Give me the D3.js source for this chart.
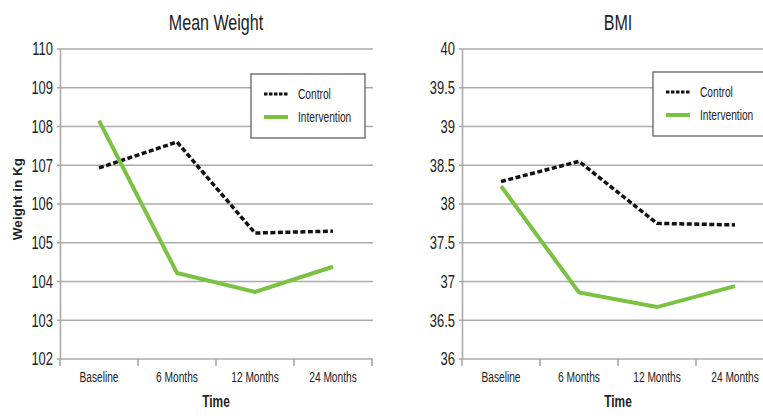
<!DOCTYPE html>
<html><head><meta charset="utf-8">
<script src="https://cdn.jsdelivr.net/npm/d3@7"></script>
<style>
body{margin:0;background:#fff;}
text{font-family:"Liberation Sans",Arial,sans-serif;fill:#222;}
</style></head>
<body><svg id="c" width="763" height="418"></svg>
<script>
const categories = ["Baseline","6 Months","12 Months","24 Months"];
const weightControl = [106.93, 107.6, 105.25, 105.3];
const weightIntervention = [108.15, 104.22, 103.73, 104.38];
const bmiControl = [38.29, 38.55, 37.75, 37.73];
const bmiIntervention = [38.23, 36.86, 36.67, 36.94];
const weightTicks = [102,103,104,105,106,107,108,109,110];
const bmiTicks = [36,36.5,37,37.5,38,38.5,39,39.5,40];
const seriesNames = ["Control","Intervention"];

const svg = d3.select("#c");

function condense(sel, s){
  sel.each(function(){
    const t = d3.select(this);
    const x = +t.attr("x") || 0;
    t.attr("transform", `translate(${x},0) scale(${s},1) translate(${-x},0)`);
  });
}

function panel(opt){
  const g = svg.append("g");
  const x = d3.scaleBand().domain(categories).range([opt.x0, opt.x0+312]);
  const y = d3.scaleLinear().domain(opt.domain).range([359, 49]);
  g.selectAll(".grid").data(opt.ticks).join("line")
    .attr("x1", opt.x0-3).attr("x2", opt.x0+313)
    .attr("y1", d=>y(d)).attr("y2", d=>y(d))
    .attr("stroke", "#aaaaaa").attr("stroke-width", 1.6);
  const ya = d3.axisLeft(y).tickValues(opt.ticks).tickSize(0).tickPadding(7).tickFormat(d=>String(d));
  const yg = g.append("g").attr("transform", `translate(${opt.x0},0)`).call(ya);
  yg.select(".domain").attr("stroke","#aaaaaa").attr("stroke-width",1.6);
  yg.selectAll("text").style("font-size","18px").attr("fill","#333").call(condense, 0.72);
  const xa = d3.axisBottom(x).tickSize(0).tickPadding(12);
  const xg = g.append("g").attr("transform", `translate(0,359)`).call(xa);
  xg.select(".domain").remove();
  xg.selectAll("text").style("font-size","15px").attr("fill","#333").call(condense, 0.68);
  const bounds = [...categories.map(c=>x(c)), opt.x0+312];
  g.selectAll(".xt").data(bounds).join("line")
    .attr("x1", d=>d).attr("x2", d=>d).attr("y1", 359).attr("y2", 366)
    .attr("stroke","#aaaaaa").attr("stroke-width",1.6);
  g.append("text").attr("x", opt.x0+156).attr("y", 407).attr("text-anchor","middle")
    .style("font-size","17px").style("font-weight","bold").text("Time").call(condense, 0.7);
  g.append("text").attr("x", opt.x0+156).attr("y", 30).attr("text-anchor","middle")
    .style("font-size","22px").attr("fill","#333").text(opt.title).call(condense, 0.73);
  const line = d3.line().x((d,i)=>x(categories[i])+x.bandwidth()/2).y(d=>y(d));
  g.append("path").datum(opt.control).attr("d", line).attr("fill","none")
    .attr("stroke","#111").attr("stroke-width",3.5).attr("stroke-dasharray","5,2.5");
  g.append("path").datum(opt.intervention).attr("d", line).attr("fill","none")
    .attr("stroke","#7bc142").attr("stroke-width",4);
  const lx = opt.x0+191, ly = opt.ly;
  g.append("rect").attr("x", lx).attr("y", ly).attr("width", 114).attr("height", 64)
    .attr("fill","#fff").attr("stroke","#555").attr("stroke-width",1.2);
  g.append("line").attr("x1", lx+13).attr("x2", lx+37).attr("y1", ly+20).attr("y2", ly+20)
    .attr("stroke","#111").attr("stroke-width",3).attr("stroke-dasharray","3.5,1.5");
  g.append("line").attr("x1", lx+13).attr("x2", lx+37).attr("y1", ly+43).attr("y2", ly+43)
    .attr("stroke","#7bc142").attr("stroke-width",4);
  g.append("text").attr("x", lx+47).attr("y", ly+25).style("font-size","15px").attr("fill","#333").text(seriesNames[0]).call(condense, 0.68);
  g.append("text").attr("x", lx+47).attr("y", ly+48).style("font-size","15px").attr("fill","#333").text(seriesNames[1]).call(condense, 0.68);
}

panel({x0:60, domain:[102,110], ticks:weightTicks, title:"Mean Weight", control:weightControl, intervention:weightIntervention, ly:74});
panel({x0:462, domain:[36,40], ticks:bmiTicks, title:"BMI", control:bmiControl, intervention:bmiIntervention, ly:72});

svg.append("text").attr("transform","translate(22,199) rotate(-90)").attr("text-anchor","middle")
  .style("font-size","13.5px").style("font-weight","bold")
  .text("Weight in Kg");
</script></body></html>
